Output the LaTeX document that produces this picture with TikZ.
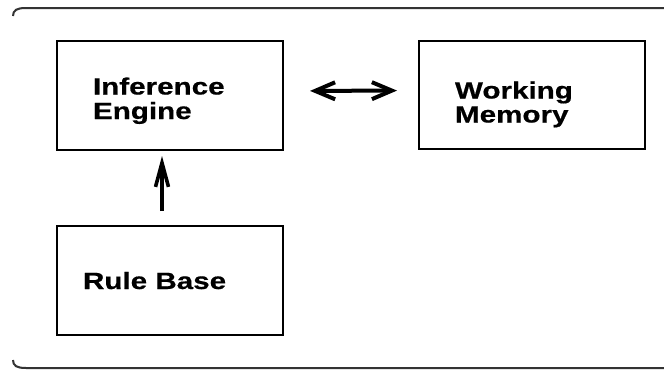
\documentclass[tikz,border=0pt]{standalone}
\usepackage{fontspec}
\newfontfamily\boxfont[FakeStretch=1.26, FakeBold=0.6]{Liberation Sans Bold}
\usetikzlibrary{arrows.meta}

\tikzset{
  blockbox/.style={draw=black, line width=2pt, minimum width=226pt,
    minimum height=109pt, inner sep=0pt, outer sep=0pt},
  blocktext/.style={anchor=base west, inner sep=0pt, outer sep=0pt,
    font=\boxfont\fontsize{23.5pt}{24pt}\selectfont},
  barbtip/.tip={Straight Barb[length=20pt, width=17pt, line width=4pt]},
  uptip/.tip={Straight Barb[length=24pt, width=13pt, line width=3.6pt]},
  linkarrow/.style={line width=4pt},
  frameline/.style={draw=black!80, line width=2pt}
}

\begin{document}
\begin{tikzpicture}[x=1pt, y=-1pt]
  \useasboundingbox (0,0) rectangle (664,370);

  % open outer frame (top and bottom rails with curled left ends)
  \draw[frameline] (13,16) .. controls (13,10) and (17,8) .. (26,8) -- (664,8);
  \draw[frameline] (13,360) .. controls (13,366) and (17,368) .. (26,368) -- (664,368);

  % blocks
  \node[blockbox] (ie) at (170,95.5) {};
  \node[blockbox, minimum height=108pt] (wm) at (532,95) {};
  \node[blockbox] (rb) at (170,280.5) {};

  % block labels
  \node[blocktext] (ie1) at (93,94.5) {Inference};
  \node[blocktext] (ie2) at (93,119) {Engine};
  \node[blocktext] (wm1) at (455,98.5) {Working};
  \node[blocktext] (wm2) at (455,122.5) {Memory};
  \node[blocktext] (rb1) at (83,289) {Rule Base};

  % connectors
  \draw[linkarrow, barbtip-barbtip, shorten <=27pt, shorten >=22pt]
    ([yshift=4.5pt]ie.east) -- ([yshift=4.5pt]wm.west);
  \draw[line width=3.6pt, -uptip, shorten <=15pt, shorten >=6pt]
    ([xshift=-8pt]rb.north) -- ([xshift=-8pt]ie.south);
\end{tikzpicture}
\end{document}
